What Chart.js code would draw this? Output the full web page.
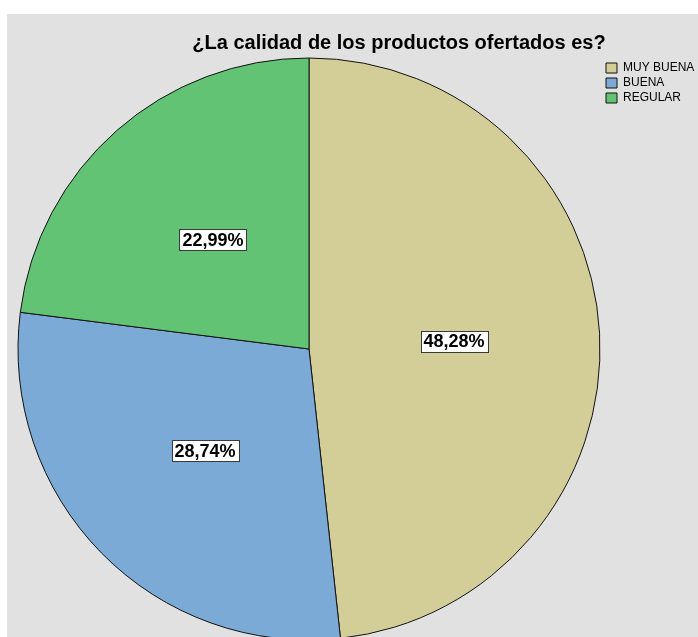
<!DOCTYPE html>
<html lang="es">
<head>
<meta charset="utf-8">
<title>¿La calidad de los productos ofertados es?</title>
<script src="https://cdn.jsdelivr.net/npm/chart.js@4/dist/chart.umd.min.js"></script>
<style>
  html, body { margin: 0; padding: 0; width: 698px; height: 637px; overflow: hidden; background: #ffffff; }
  #panel { position: absolute; left: 7px; top: 14px; width: 700px; height: 626px; background: #e1e1e1; }
  #panel canvas { position: absolute; left: 0; top: 0; }
  #title {
    position: absolute; left: 399px; top: 30px; transform: translateX(-50%);
    white-space: nowrap; font: bold 20px/24px "Liberation Sans", Arial, sans-serif; color: #000;
  }
</style>
</head>
<body>
<div id="panel"><canvas id="chart" width="700" height="626"></canvas></div>
<div id="title">¿La calidad de los productos ofertados es?</div>
<script>
// Survey answers and their shares (%)
const categories = ['MUY BUENA', 'BUENA', 'REGULAR'];
const percentages = [48.28, 28.74, 22.99];
const sliceColors = ['#d3ce97', '#7aaad5', '#63c375'];

// Percentage boxes drawn at the centre point of each slice
const sliceLabels = {
  id: 'sliceLabels',
  afterDatasetsDraw(chart) {
    const ctx = chart.ctx;
    const meta = chart.getDatasetMeta(0);
    const values = chart.data.datasets[0].data;
    ctx.save();
    ctx.font = 'bold 18px "Liberation Sans", Arial, sans-serif';
    ctx.textAlign = 'center';
    ctx.textBaseline = 'middle';
    meta.data.forEach((arc, i) => {
      const p = arc.getCenterPoint();
      const text = values[i].toFixed(2).replace('.', ',') + '%';
      const w = Math.round(ctx.measureText(text).width) + 6;
      const h = 21;
      const x = Math.round(p.x - w / 2) + 0.5;
      const y = Math.round(p.y - h / 2) + 0.5;
      ctx.fillStyle = '#ffffff';
      ctx.fillRect(x, y, w, h);
      ctx.lineWidth = 1;
      ctx.strokeStyle = '#3a3a3a';
      ctx.strokeRect(x, y, w, h);
      ctx.fillStyle = '#000000';
      ctx.fillText(text, Math.round(p.x), Math.round(p.y) + 1);
    });
    ctx.restore();
  }
};

new Chart(document.getElementById('chart'), {
  type: 'pie',
  data: {
    labels: categories,
    datasets: [{
      data: percentages,
      backgroundColor: sliceColors,
      borderColor: '#111111',
      borderWidth: 1,
      radius: 291
    }]
  },
  options: {
    responsive: false,
    animation: false,
    devicePixelRatio: 1,
    layout: { padding: { left: 8, right: 4, top: 45, bottom: 1 } },
    plugins: {
      title: { display: false },
      tooltip: { enabled: false },
      legend: {
        position: 'right',
        align: 'start',
        maxWidth: 100,
        labels: {
          boxWidth: 11,
          boxHeight: 10,
          padding: 3,
          color: '#000000',
          font: { family: '"Liberation Sans", Arial, sans-serif', size: 12 }
        }
      }
    }
  },
  plugins: [sliceLabels]
});
</script>
</body>
</html>
